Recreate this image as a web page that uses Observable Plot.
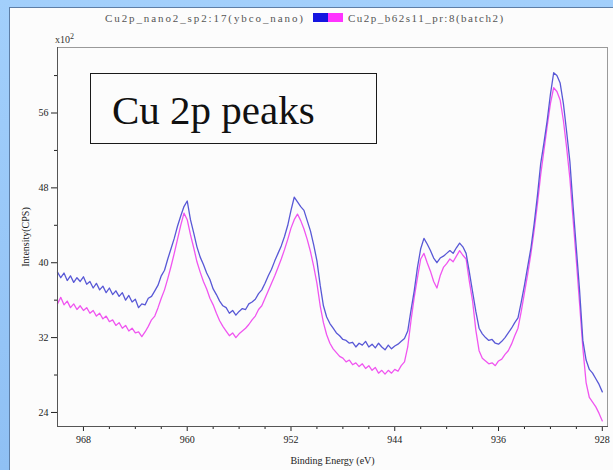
<!DOCTYPE html>
<html><head><meta charset="utf-8">
<script src="https://cdn.jsdelivr.net/npm/d3@7"></script>
<script src="https://cdn.jsdelivr.net/npm/@observablehq/plot@0.6"></script>
<style>
html,body{margin:0;padding:0;}
body{width:613px;height:470px;position:relative;overflow:hidden;background:linear-gradient(#a2cffb,#8fc0f4);font-family:"Liberation Serif",serif;}
#panel{position:absolute;left:9px;top:7px;width:604px;height:463px;background:#fcfcfc;border-left:1px solid #5d7ea6;border-top:1px solid #5d7ea6;}
#chart{position:absolute;left:0;top:0;}
.tt{position:absolute;top:12px;font-family:"Liberation Serif",serif;font-size:11px;color:#555;white-space:nowrap;letter-spacing:1.9px;line-height:12px;}
.sq{position:absolute;top:13px;width:15px;height:9px;}
#mult{position:absolute;left:55px;top:32px;font-size:10px;color:#333;}
#mult sup{font-size:8px;}
#box{position:absolute;left:90px;top:73px;width:285px;height:69px;border:1.5px solid #1a1a1a;background:#fcfcfc;}
#boxtext{position:absolute;left:112px;top:89px;font-size:41px;line-height:42px;color:#111;white-space:nowrap;}
</style></head>
<body>
<div id="panel"></div>
<div class="tt" style="left:105px">Cu2p_nano2_sp2:17(ybco_nano)</div>
<div class="sq" style="left:313px;background:#1515e0"></div>
<div class="sq" style="left:328px;background:#ff33ff"></div>
<div class="tt" style="left:348px;letter-spacing:1.5px">Cu2p_b62s11_pr:8(batch2)</div>
<div id="chart"></div>
<div id="mult">x10<sup>2</sup></div>
<div id="box"></div>
<div id="boxtext">Cu 2p peaks</div>
<script>
const energy = [
970,969.75,969.5,969.25, 969,968.75,968.5,968.25, 968,967.75,967.5,967.25, 967,966.75,966.5,966.25,
966,965.75,965.5,965.25, 965,964.75,964.5,964.25, 964,963.75,963.5,963.25, 963,962.75,962.5,962.25,
962,961.75,961.5,961.25, 961,960.75,960.5,960.25, 960,959.75,959.5,959.25, 959,958.75,958.5,958.25,
958,957.75,957.5,957.25, 957,956.75,956.5,956.25, 956,955.75,955.5,955.25, 955,954.75,954.5,954.25,
954,953.75,953.5,953.25, 953,952.75,952.5,952.25, 952,951.75,951.5,951.25, 951,950.75,950.5,950.25,
950,949.75,949.5,949.25, 949,948.75,948.5,948.25, 948,947.75,947.5,947.25, 947,946.75,946.5,946.25,
946,945.75,945.5,945.25, 945,944.75,944.5,944.25, 944,943.75,943.5,943.25, 943,942.75,942.5,942.25,
942,941.75,941.5,941.25, 941,940.75,940.5,940.25, 940,939.75,939.5,939.25, 939,938.75,938.5,938.25,
938,937.75,937.5,937.25, 937,936.75,936.5,936.25, 936,935.75,935.5,935.25, 935,934.75,934.5,934.25,
934,933.75,933.5,933.25, 933,932.75,932.5,932.25, 932,931.75,931.5,931.25, 931,930.75,930.5,930.25,
930,929.75,929.5,929.25, 929,928.75,928.5,928.25, 928];
const blueCounts = [
39.0,38.4,38.9,38.1, 38.6,37.9,38.4,38.0, 38.5,37.7,38.0,37.3, 37.8,37.1,37.5,36.8,
37.3,36.6,37.0,36.4, 36.8,36.0,36.5,35.8, 36.1,35.2,35.6,35.5, 36.2,36.4,37.0,37.6,
38.6,39.2,40.4,41.5, 42.6,43.9,45.0,46.0, 46.6,44.6,43.2,41.7, 40.6,39.8,38.9,38.2,
37.2,36.6,35.9,35.4, 35.2,34.6,34.9,34.4, 34.8,35.1,35.0,35.6, 35.8,36.1,36.7,37.1,
37.8,38.6,39.3,40.2, 41.0,41.8,42.8,44.0, 45.6,47.0,46.5,46.0, 45.6,44.5,43.4,41.9,
40.2,37.6,35.4,34.2, 33.5,33.0,32.5,32.2, 31.8,31.7,31.4,31.5, 31.0,31.4,31.2,31.6,
31.0,31.3,30.9,31.4, 31.0,30.7,31.2,30.8, 31.1,31.3,31.6,31.9, 32.7,34.9,37.0,39.5,
41.5,42.6,42.0,41.3, 40.5,40.0,40.5,40.7, 41.0,41.3,41.0,41.6, 42.1,41.7,41.0,39.0,
36.9,34.8,33.0,32.4, 32.0,31.7,31.8,31.4, 31.3,31.6,32.0,32.5, 33.0,33.6,34.1,35.8,
37.6,39.6,41.6,44.2, 47.2,50.6,52.8,55.2, 58.0,60.3,60.0,59.2, 57.0,54.0,50.8,46.0,
41.5,37.0,31.7,29.6, 28.6,28.2,27.6,27.0, 26.2];
const pinkCounts = [
35.6,36.3,35.5,35.9, 35.2,35.6,35.0,35.4, 34.9,35.2,34.6,34.9, 34.3,34.6,34.0,34.3,
33.7,33.9,33.3,33.6, 33.0,33.3,32.7,33.0, 32.5,32.6,32.1,32.6, 33.2,33.9,34.3,35.2,
36.2,37.1,38.3,39.6, 41.0,42.5,44.0,45.3, 44.6,43.0,41.6,40.1, 39.0,38.0,37.2,36.2,
35.5,34.6,33.8,33.2, 32.7,32.2,32.5,32.0, 32.4,32.7,33.0,33.4, 33.9,34.3,35.0,35.4,
36.2,37.0,37.8,38.6, 39.5,40.4,41.4,42.5, 43.7,44.6,45.2,44.5, 43.6,42.5,41.2,39.6,
37.8,35.4,33.6,32.3, 31.4,30.8,30.4,30.0, 29.8,29.4,29.6,29.1, 29.3,28.9,29.2,28.7,
29.0,28.5,28.8,28.2, 28.5,28.1,28.5,28.2, 28.6,28.4,29.0,29.4, 31.0,33.8,36.3,38.4,
40.4,41.0,40.0,39.1, 38.0,37.3,38.6,39.5, 39.9,40.4,40.1,40.7, 41.3,40.8,40.4,38.0,
35.9,32.8,30.6,29.8, 29.5,29.2,29.3,29.0, 29.5,29.7,30.2,30.6, 31.3,32.2,33.0,34.8,
36.8,38.8,41.0,43.5, 46.3,49.4,52.0,54.6, 57.0,58.7,58.3,57.4, 55.2,52.3,49.0,44.6,
40.2,35.6,30.9,27.2, 25.6,25.1,24.6,23.9, 23.1];
const xMajorTicks = [968,960,952,944,936,928];
const xMinorTicks = [966,964,962,958,956,954,950,948,946,942,940,938,934,932,930];
const yMajorTicks = [24,32,40,48,56];
const yMinorTicks = [28,36,44,52,60];

const rows = energy.map((e,i)=>({e, blue: blueCounts[i], pink: pinkCounts[i]}));

const plot = Plot.plot({
  width: 613, height: 470,
  marginLeft: 57, marginTop: 47, marginRight: 6, marginBottom: 44,
  style: {background:"transparent", fontFamily:"Liberation Serif", fontSize:"9px", color:"#222", overflow:"visible"},
  x: {domain:[970, 927.6]},
  y: {domain:[22.5, 63]},
  marks: [
    Plot.frame({stroke:"#9a9a9a"}),
    Plot.line(rows, {x:"e", y:"pink", stroke:"#f055f0", strokeWidth:1.3}),
    Plot.line(rows, {x:"e", y:"blue", stroke:"#5858d6", strokeWidth:1.3}),
    Plot.axisX({ticks:xMajorTicks, tickSize:5, tickPadding:4, label:"Binding Energy (eV)", labelAnchor:"center", labelOffset:37, labelArrow:"none", fontSize:10}),
    Plot.axisX({ticks:xMinorTicks, tickSize:3, tickFormat:()=>"", label:null}),
    Plot.axisY({ticks:yMajorTicks, tickSize:6, tickPadding:3, label:"Intensity(CPS)", labelAnchor:"center", labelOffset:36, labelArrow:"none", fontSize:10}),
    Plot.axisY({ticks:yMinorTicks, tickSize:3, tickFormat:()=>"", label:null}),
    Plot.frame({anchor:"left", stroke:"#555"}),
    Plot.frame({anchor:"bottom", stroke:"#555"})
  ]
});
document.getElementById("chart").appendChild(plot);
</script>
</body></html>
